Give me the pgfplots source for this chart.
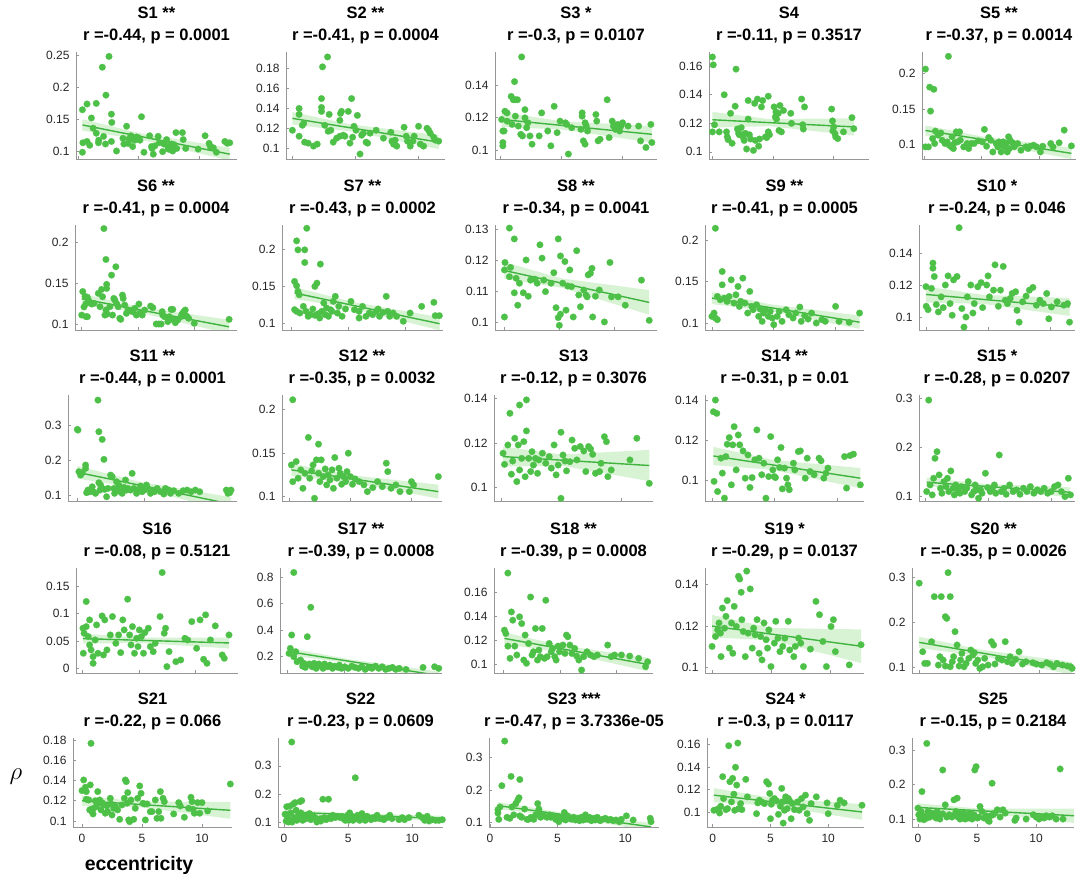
\documentclass[border=0pt]{standalone}
\usepackage{fontspec}
\setmainfont{Liberation Sans}
\usepackage{pgfplots}
\pgfplotsset{compat=1.18}
\definecolor{ptgreen}{RGB}{77,192,72}
\definecolor{lngreen}{RGB}{62,180,62}
\definecolor{bandgreen}{RGB}{216,242,212}
\definecolor{axgray}{RGB}{150,150,150}
\definecolor{tickc}{RGB}{38,38,38}
\pgfplotsset{
 panel/.style={scale only axis, anchor=south west, axis lines=left,
   axis line style={-, draw=axgray, line width=0.7pt},
   tick style={draw=axgray, line width=0.7pt}, tick align=inside, major tick length=2.5pt,
   xtick={0,5,10}, xticklabels={}, scaled ticks=false, clip=true,
   yticklabel style={font=\fontsize{12}{12}\selectfont, text=tickc, /pgf/number format/fixed, /pgf/number format/precision=2, /pgf/number format/assume math mode=true, xshift=-3pt},
   title style={font=\bfseries\fontsize{16.5}{22}\selectfont, align=center, at={(0.5,1)}, anchor=south, inner sep=0pt, yshift=1.5pt}},
 bottomrow/.style={xticklabels={0,5,10}, xticklabel style={font=\fontsize{12}{12}\selectfont, text=tickc, /pgf/number format/assume math mode=true, yshift=-4pt}},
 scat/.style={only marks, mark=*, color=ptgreen, mark size=3.3pt, mark options={draw=ptgreen, fill=ptgreen, line width=0.2pt}},
 fitline/.style={draw=lngreen, line width=1.4pt, no marks},
 ciband/.style={fill=bandgreen, draw=none, no marks},
}
\begin{document}
\begin{tikzpicture}[x=1pt,y=1pt]
\useasboundingbox (0,0) rectangle (1084,880);
% ---------------- Row 1
\begin{axis}[panel, at={(76pt,721pt)}, width=161pt, height=107pt, xmin=-0.17, xmax=13.1, ymin=0.0874, ymax=0.256, ytick={0.1,0.15,0.2,0.25}, title={S1 **\\r =-0.44, p = 0.0001}]
\addplot[ciband] coordinates {(0.36,0.150) (5.22,0.1276) (12.5,0.105) (12.5,0.085) (5.22,0.1176) (0.36,0.132)} -- cycle;
\addplot[scat] coordinates {(0.36,0.165) (0.74,0.174) (0.4,0.113) (0.36,0.098) (0.74,0.115) (0.96,0.109) (1.1,0.152) (1.24,0.136) (1.5,0.175) (1.5,0.128) (1.68,0.113) (1.7,0.117) (2.0,0.232) (2.1,0.123) (2.26,0.111) (2.3,0.188) (2.55,0.249) (2.75,0.158) (2.78,0.145) (2.75,0.115) (3.17,0.10) (3.7,0.12) (3.78,0.111) (4.0,0.139) (4.13,0.112) (4.2,0.119) (4.35,0.124) (4.5,0.107) (4.55,0.118) (4.68,0.117) (4.82,0.122) (4.96,0.121) (5.1,0.117) (5.23,0.154) (5.43,0.098) (5.9,0.124) (6.05,0.107) (6.1,0.104) (6.2,0.095) (6.33,0.108) (6.6,0.123) (6.7,0.113) (6.97,0.099) (7.08,0.111) (7.3,0.118) (7.4,0.107) (7.44,0.103) (7.58,0.107) (7.63,0.102) (7.7,0.111) (7.8,0.1) (7.9,0.11) (8.07,0.129) (8.13,0.104) (8.6,0.129) (8.67,0.118) (8.87,0.104) (9.9,0.103) (10.47,0.124) (10.8,0.112) (10.9,0.107) (11.15,0.105) (11.4,0.098) (12.1,0.115) (12.3,0.112) (12.5,0.113)};
\addplot[fitline] coordinates {(0.36,0.141) (12.5,0.095)};
\end{axis}
\begin{axis}[panel, at={(286pt,721pt)}, width=159pt, height=107pt, xmin=-0.48, xmax=12.15, ymin=0.089, ymax=0.197, ytick={0.1,0.12,0.14,0.16,0.18}, title={S2 **\\r =-0.41, p = 0.0004}]
\addplot[ciband] coordinates {(0.03,0.1363) (4.68,0.1239) (11.65,0.113) (11.65,0.099) (4.68,0.1169) (0.03,0.1237)} -- cycle;
\addplot[scat] coordinates {(0.03,0.118) (0.56,0.140) (0.56,0.134) (0.56,0.112) (0.82,0.123) (0.93,0.125) (1.0,0.106) (1.28,0.105) (1.7,0.102) (2.0,0.104) (2.34,0.150) (2.34,0.141) (2.34,0.137) (2.42,0.182) (2.82,0.192) (2.6,0.123) (2.95,0.134) (2.87,0.117) (3.08,0.118) (3.27,0.106) (3.54,0.110) (3.8,0.128) (3.85,0.135) (3.93,0.137) (3.8,0.112) (4.07,0.113) (4.2,0.112) (4.47,0.137) (4.6,0.105) (4.73,0.150) (4.81,0.111) (4.92,0.122) (5.08,0.118) (5.19,0.133) (5.4,0.094) (5.53,0.113) (5.66,0.115) (5.88,0.106) (6.0,0.105) (6.2,0.115) (6.68,0.118) (7.26,0.110) (7.85,0.116) (7.93,0.107) (8.06,0.104) (8.19,0.108) (8.32,0.102) (8.9,0.121) (9.07,0.112) (9.17,0.107) (9.39,0.102) (9.6,0.107) (9.7,0.112) (10.05,0.122) (10.19,0.104) (10.45,0.102) (10.72,0.120) (10.85,0.118) (10.98,0.115) (11.25,0.111) (11.38,0.108) (11.65,0.107)};
\addplot[fitline] coordinates {(0.03,0.130) (11.65,0.106)};
\end{axis}
\begin{axis}[panel, at={(495pt,721pt)}, width=162pt, height=107pt, xmin=-0.4, xmax=12.8, ymin=0.095, ymax=0.16, ytick={0.1,0.12,0.14}, title={S3 *\\r =-0.3, p = 0.0107}]
\addplot[ciband] coordinates {(0.14,0.1235) (5.04,0.1179) (12.38,0.115) (12.38,0.105) (5.04,0.1129) (0.14,0.1145)} -- cycle;
\addplot[scat] coordinates {(0.14,0.119) (0.24,0.112) (0.34,0.112) (0.24,0.105) (0.24,0.103) (0.41,0.124) (0.58,0.123) (0.58,0.118) (0.92,0.133) (0.99,0.116) (1.09,0.131) (1.19,0.142) (1.26,0.131) (1.43,0.131) (1.26,0.121) (1.5,0.115) (1.7,0.110) (1.77,0.157) (1.84,0.109) (2.04,0.125) (2.04,0.120) (2.18,0.114) (2.28,0.117) (2.45,0.109) (2.62,0.104) (3.2,0.109) (3.4,0.123) (3.9,0.112) (4.15,0.103) (4.42,0.127) (4.66,0.111) (4.9,0.118) (5.34,0.117) (5.44,0.116) (5.58,0.098) (5.85,0.114) (6.6,0.113) (6.7,0.123) (6.7,0.121) (6.8,0.106) (6.94,0.104) (6.94,0.117) (7.04,0.115) (7.14,0.112) (7.82,0.122) (7.89,0.118) (8.0,0.106) (8.16,0.107) (8.74,0.131) (8.9,0.108) (9.15,0.118) (9.25,0.115) (9.42,0.113) (9.6,0.116) (9.76,0.112) (9.86,0.115) (10.0,0.117) (10.44,0.115) (11.3,0.115) (11.46,0.106) (11.9,0.102) (12.3,0.116) (12.38,0.105)};
\addplot[fitline] coordinates {(0.14,0.119) (12.38,0.110)};
\end{axis}
\begin{axis}[panel, at={(709pt,721pt)}, width=160pt, height=107pt, xmin=-0.25, xmax=12.9, ymin=0.095, ymax=0.17, ytick={0.1,0.12,0.14,0.16}, title={S4\\r =-0.11, p = 0.3517}]
\addplot[ciband] coordinates {(0.03,0.128) (4.68,0.123) (11.65,0.1235) (11.65,0.1115) (4.68,0.118) (0.03,0.117)} -- cycle;
\addplot[scat] coordinates {(0.03,0.1665) (0.1,0.161) (0.03,0.114) (0.2,0.119) (0.59,0.114) (1.0,0.140) (1.19,0.114) (1.25,0.1105) (1.32,0.1086) (1.52,0.127) (1.65,0.106) (1.9,0.132) (1.97,0.158) (2.08,0.116) (2.18,0.113) (2.24,0.112) (2.4,0.117) (2.5,0.112) (2.57,0.110) (2.64,0.108) (2.74,0.113) (2.84,0.102) (2.97,0.136) (2.97,0.123) (3.07,0.112) (3.17,0.109) (3.4,0.101) (3.5,0.134) (3.56,0.108) (3.73,0.137) (3.83,0.104) (3.9,0.109) (4.06,0.1315) (4.16,0.136) (4.39,0.1105) (4.49,0.110) (4.62,0.139) (4.62,0.114) (4.72,0.112) (5.1,0.1315) (5.2,0.1245) (5.25,0.128) (5.3,0.123) (5.45,0.127) (5.5,0.115) (5.58,0.1325) (5.7,0.114) (5.87,0.129) (6.47,0.127) (6.53,0.120) (7.36,0.137) (7.46,0.119) (7.5,0.116) (7.6,0.1315) (9.83,0.130) (9.9,0.1217) (9.93,0.1147) (10.0,0.1175) (10.1,0.1128) (10.16,0.1105) (10.33,0.1093) (10.8,0.114) (11.5,0.124) (11.65,0.1163)};
\addplot[fitline] coordinates {(0.03,0.1225) (11.65,0.1175)};
\end{axis}
\begin{axis}[panel, at={(922pt,721pt)}, width=154pt, height=107pt, xmin=-0.2, xmax=13.2, ymin=0.079, ymax=0.231, ytick={0.1,0.15,0.2}, title={S5 **\\r =-0.37, p = 0.0014}]
\addplot[ciband] coordinates {(0.1,0.1267) (5.18,0.1105) (12.8,0.095) (12.8,0.079) (5.18,0.1025) (0.1,0.1123)} -- cycle;
\addplot[scat] coordinates {(0.1,0.2067) (0.1,0.0962) (0.36,0.0962) (0.47,0.181) (0.54,0.147) (0.83,0.178) (0.72,0.108) (0.9,0.101) (0.97,0.1186) (1.19,0.1129) (1.44,0.116) (1.55,0.1057) (1.8,0.101) (1.99,0.1033) (2.1,0.2248) (2.17,0.0986) (2.35,0.0962) (2.42,0.1105) (2.53,0.0938) (2.64,0.102) (2.78,0.1176) (2.89,0.1033) (3.07,0.1176) (3.14,0.1057) (3.43,0.0962) (3.72,0.101) (3.86,0.0938) (4.08,0.101) (4.33,0.101) (4.69,0.1048) (5.05,0.1033) (5.23,0.121) (5.42,0.0971) (5.6,0.1095) (5.78,0.1057) (5.96,0.089) (6.25,0.101) (6.39,0.0962) (6.5,0.1033) (6.61,0.0986) (6.68,0.089) (6.86,0.1033) (6.97,0.0962) (7.1,0.101) (7.22,0.089) (7.33,0.1105) (7.4,0.0938) (7.47,0.1057) (7.69,0.102) (7.83,0.0962) (8.12,0.101) (8.41,0.0914) (8.84,0.0962) (9.03,0.0938) (9.2,0.0971) (9.5,0.0986) (9.75,0.0962) (10.1,0.089) (10.3,0.0971) (11.0,0.101) (11.2,0.0962) (11.73,0.102) (12.17,0.12) (12.8,0.0976)};
\addplot[fitline] coordinates {(0.1,0.1195) (12.8,0.087)};
\end{axis}
% ---------------- Row 2
\begin{axis}[panel, at={(75pt,550pt)}, width=162pt, height=105pt, xmin=-0.6, xmax=13.8, ymin=0.0926, ymax=0.222, ytick={0.1,0.15,0.2}, title={S6 **\\r =-0.41, p = 0.0004}]
\addplot[ciband] coordinates {(0,0.1373) (5.24,0.1207) (13.1,0.1053) (13.1,0.0877) (5.24,0.1137) (0,0.1247)} -- cycle;
\addplot[scat] coordinates {(0,0.111) (0.09,0.140) (0.2,0.121) (0.29,0.134) (0.38,0.125) (0.38,0.109) (0.5,0.109) (0.59,0.1295) (0.5,0.133) (0.68,0.127) (0.88,0.1246) (1.09,0.1254) (1.47,0.1377) (1.62,0.1213) (1.76,0.1426) (1.85,0.1336) (1.97,0.2176) (2.06,0.111) (2.15,0.1795) (2.21,0.1488) (2.21,0.1438) (2.15,0.1172) (2.26,0.1123) (2.5,0.1213) (2.65,0.1602) (2.74,0.111) (2.85,0.1315) (3.03,0.1705) (2.94,0.1295) (3.09,0.1254) (3.24,0.1213) (3.38,0.107) (3.47,0.1057) (3.62,0.1356) (3.68,0.1315) (3.82,0.1234) (3.97,0.1131) (4.12,0.1172) (4.32,0.1164) (4.5,0.1152) (4.71,0.1193) (4.85,0.111) (5.08,0.1246) (5.15,0.1131) (5.38,0.111) (5.59,0.1172) (6.12,0.1221) (6.32,0.1201) (6.62,0.100) (6.85,0.100) (7.06,0.100) (7.15,0.1152) (7.2,0.111) (7.35,0.109) (7.65,0.1029) (7.79,0.109) (7.94,0.118) (8.09,0.118) (8.15,0.1049) (8.32,0.1016) (8.53,0.1049) (8.82,0.109) (8.91,0.1123) (9.06,0.1152) (9.2,0.1172) (9.32,0.1098) (9.5,0.107) (10.0,0.1008) (13.1,0.1057)};
\addplot[fitline] coordinates {(0,0.131) (13.1,0.0965)};
\end{axis}
\begin{axis}[panel, at={(282pt,550pt)}, width=161pt, height=105pt, xmin=-0.8, xmax=13.3, ymin=0.0904, ymax=0.234, ytick={0.1,0.15,0.2}, title={S7 **\\r =-0.43, p = 0.0002}]
\addplot[ciband] coordinates {(0.3,0.1491) (5.38,0.1287) (13.0,0.108) (13.0,0.09) (5.38,0.1197) (0.3,0.1329)} -- cycle;
\addplot[scat] coordinates {(0.48,0.2123) (0.6,0.2) (1.19,0.2) (1.37,0.2295) (1.19,0.1827) (2.56,0.1805) (0.3,0.1568) (0.48,0.151) (0.6,0.1432) (0.71,0.1386) (0.3,0.1182) (0.48,0.1159) (0.77,0.1136) (1.07,0.1227) (1.31,0.1159) (1.67,0.1114) (1.9,0.1191) (2.08,0.15) (2.26,0.1545) (2.38,0.1127) (2.68,0.1159) (2.86,0.1273) (2.98,0.1114) (3.1,0.1205) (3.27,0.1091) (3.45,0.1182) (3.57,0.1159) (3.69,0.1295) (3.87,0.1364) (4.05,0.1136) (4.17,0.1227) (4.46,0.1091) (4.76,0.1191) (5.24,0.1295) (5.54,0.1182) (5.95,0.1159) (6.25,0.1227) (6.55,0.1091) (7.14,0.1114) (7.44,0.1159) (7.62,0.1191) (7.74,0.1091) (8.33,0.1364) (8.45,0.1159) (8.63,0.1091) (8.93,0.1136) (9.23,0.1091) (9.82,0.1023) (10.42,0.1136) (11.43,0.1227) (12.5,0.1282) (12.62,0.11) (12.98,0.11) (1.49,0.1091) (2.08,0.1105) (2.5,0.1068) (5.95,0.1068) (6.85,0.1136) (8.04,0.1145)};
\addplot[fitline] coordinates {(0.3,0.141) (13.0,0.099)};
\end{axis}
\begin{axis}[panel, at={(495pt,550pt)}, width=162pt, height=105pt, xmin=-0.8, xmax=13.8, ymin=0.0974, ymax=0.1313, ytick={0.1,0.11,0.12,0.13}, title={S8 **\\r =-0.34, p = 0.0041}]
\addplot[ciband] coordinates {(0.05,0.1193) (5.27,0.114) (13.1,0.1103) (13.1,0.1023) (5.27,0.111) (0.05,0.1139)} -- cycle;
\addplot[scat] coordinates {(0.05,0.1016) (0.05,0.1168) (0.1,0.1192) (0.5,0.1303) (0.5,0.1146) (0.6,0.1176) (0.94,0.1268) (0.94,0.1094) (1.1,0.1141) (1.25,0.1054) (1.4,0.1125) (1.75,0.1094) (2.0,0.120) (2.2,0.1083) (2.4,0.1135) (2.8,0.1138) (3.0,0.1125) (3.25,0.1249) (3.44,0.1206) (3.6,0.1135) (3.75,0.1098) (4.25,0.1125) (4.5,0.1159) (4.7,0.1046) (4.9,0.1014) (4.9,0.1268) (5.0,0.0989) (5.1,0.1025) (5.1,0.1213) (5.3,0.1125) (5.5,0.1195) (5.6,0.1038) (5.75,0.1116) (5.94,0.1168) (6.1,0.1114) (6.25,0.1016) (6.56,0.123) (6.75,0.1087) (6.9,0.1049) (7.2,0.1103) (7.4,0.1087) (7.5,0.1081) (7.6,0.1152) (7.8,0.1157) (7.94,0.1173) (8.0,0.1016) (8.25,0.1083) (8.6,0.1103) (9.06,0.100) (9.56,0.1192) (9.7,0.1081) (10.3,0.1081) (10.94,0.1054) (12.4,0.1135) (13.1,0.1005)};
\addplot[fitline] coordinates {(0.05,0.1166) (13.1,0.1063)};
\end{axis}
\begin{axis}[panel, at={(705pt,550pt)}, width=159pt, height=105pt, xmin=-0.56, xmax=12.3, ymin=0.0916, ymax=0.218, ytick={0.1,0.15,0.2}, title={S9 **\\r =-0.41, p = 0.0005}]
\addplot[ciband] coordinates {(0,0.1372) (4.78,0.1224) (11.94,0.109) (11.94,0.093) (4.78,0.1144) (0,0.1228)} -- cycle;
\addplot[scat] coordinates {(0.28,0.214) (0,0.108) (0.17,0.112) (0.28,0.106) (0.44,0.104) (0.44,0.132) (0.67,0.128) (0.83,0.162) (0.83,0.146) (1.0,0.13) (1.22,0.126) (1.39,0.132) (1.56,0.152) (1.78,0.124) (1.94,0.134) (2.11,0.144) (2.22,0.12) (2.33,0.126) (2.5,0.154) (2.67,0.124) (2.89,0.112) (3.06,0.138) (3.22,0.12) (3.33,0.116) (3.61,0.122) (3.78,0.108) (3.89,0.1168) (4.06,0.102) (4.17,0.112) (4.33,0.116) (4.56,0.108) (4.72,0.114) (4.89,0.106) (5.0,0.098) (5.28,0.108) (5.44,0.114) (5.67,0.102) (6.0,0.116) (6.22,0.11) (6.56,0.106) (6.78,0.112) (7.11,0.1192) (7.22,0.102) (7.5,0.1088) (7.78,0.1048) (8.06,0.112) (8.44,0.10) (8.89,0.104) (9.17,0.102) (10.0,0.12) (10.28,0.102) (11.1,0.1008) (11.94,0.112)};
\addplot[fitline] coordinates {(0,0.13) (11.94,0.101)};
\end{axis}
\begin{axis}[panel, at={(919pt,550pt)}, width=156pt, height=105pt, xmin=-0.56, xmax=12.0, ymin=0.0919, ymax=0.1575, ytick={0.1,0.12,0.14}, title={S10 *\\r =-0.24, p = 0.046}]
\addplot[ciband] coordinates {(0,0.1191) (4.62,0.1138) (11.56,0.1119) (11.56,0.1007) (4.62,0.1082) (0,0.1091)} -- cycle;
\addplot[scat] coordinates {(0,0.119) (0.02,0.1067) (0.17,0.1046) (0.44,0.1179) (0.56,0.1305) (0.56,0.1337) (0.67,0.1253) (0.83,0.1078) (1.0,0.1032) (1.22,0.1126) (1.39,0.1059) (1.56,0.12) (1.78,0.1257) (1.94,0.1084) (2.11,0.1011) (2.22,0.1232) (2.5,0.1253) (2.67,0.1558) (2.89,0.1053) (3.06,0.0937) (3.22,0.1) (3.33,0.1126) (3.61,0.12) (3.78,0.1025) (3.89,0.1084) (4.17,0.1189) (4.44,0.1215) (4.56,0.1059) (4.89,0.12) (5.0,0.1257) (5.11,0.1126) (5.44,0.1168) (5.56,0.1326) (5.83,0.1067) (6.0,0.1168) (6.22,0.1316) (6.39,0.1105) (6.56,0.1084) (6.78,0.1116) (6.94,0.1147) (7.22,0.1158) (7.33,0.1042) (7.5,0.0968) (7.78,0.1095) (8.06,0.1131) (8.33,0.1168) (8.61,0.1185) (8.89,0.1074) (9.17,0.1105) (9.44,0.1084) (9.72,0.1147) (9.89,0.0989) (10.1,0.1063) (10.56,0.1095) (11.1,0.1074) (11.4,0.1084) (11.56,0.0968)};
\addplot[fitline] coordinates {(0,0.1141) (11.56,0.1063)};
\end{axis}
% ---------------- Row 3
\begin{axis}[panel, at={(68pt,379pt)}, width=169pt, height=106pt, xmin=-0.7, xmax=12.0, ymin=0.083, ymax=0.386, ytick={0.1,0.2,0.3}, title={S11 **\\r =-0.44, p = 0.0001}]
\addplot[ciband] coordinates {(0,0.183) (4.62,0.1386) (11.55,0.094) (11.55,0.054) (4.62,0.1186) (0,0.147)} -- cycle;
\addplot[scat] coordinates {(0,0.2876) (0.05,0.2857) (0.12,0.1667) (0.25,0.1571) (0.37,0.1638) (0.62,0.1857) (0.62,0.1762) (0.7,0.1067) (0.8,0.1143) (0.95,0.1095) (1.12,0.1238) (1.2,0.1095) (1.37,0.1048) (1.55,0.3714) (1.62,0.281) (1.62,0.1352) (1.7,0.1143) (1.75,0.1286) (1.87,0.259) (2.0,0.2019) (1.87,0.119) (2.05,0.1162) (2.2,0.0952) (2.3,0.119) (2.5,0.1571) (2.62,0.1524) (2.75,0.119) (2.8,0.1048) (2.95,0.1381) (3.05,0.1143) (3.12,0.1286) (3.25,0.1095) (3.37,0.1048) (3.5,0.1219) (3.62,0.1429) (3.7,0.1143) (3.8,0.119) (4.0,0.1143) (4.12,0.1619) (4.25,0.119) (4.45,0.1048) (4.62,0.1143) (4.75,0.1257) (4.87,0.1095) (5.05,0.1143) (5.2,0.1286) (5.3,0.119) (5.5,0.1048) (5.62,0.1143) (5.8,0.1095) (6.0,0.119) (6.25,0.1095) (6.5,0.1029) (6.62,0.119) (6.87,0.1143) (7.0,0.1048) (7.25,0.1124) (7.62,0.1048) (7.95,0.1124) (8.25,0.1143) (8.55,0.1095) (8.87,0.1143) (9.2,0.1095) (11.2,0.1143) (11.32,0.1048) (11.45,0.1067) (11.55,0.1143)};
\addplot[fitline] coordinates {(0,0.165) (11.55,0.074)};
\end{axis}
\begin{axis}[panel, at={(282pt,379pt)}, width=160pt, height=106pt, xmin=-0.6, xmax=12.5, ymin=0.095, ymax=0.217, ytick={0.1,0.15,0.2}, title={S12 **\\r =-0.35, p = 0.0032}]
\addplot[ciband] coordinates {(0.17,0.138) (4.98,0.1248) (12.2,0.1138) (12.2,0.0978) (4.98,0.1168) (0.17,0.1236)} -- cycle;
\addplot[scat] coordinates {(0.28,0.2115) (0.17,0.1365) (0.28,0.1173) (0.56,0.1404) (0.72,0.1212) (0.94,0.1308) (1.11,0.1096) (1.28,0.1269) (1.56,0.1681) (1.67,0.1212) (1.83,0.1296) (1.94,0.1365) (2.06,0.0981) (2.22,0.1423) (2.39,0.1604) (2.39,0.1269) (2.5,0.1173) (2.61,0.1423) (2.78,0.1231) (2.94,0.1319) (3.06,0.1135) (3.17,0.125) (3.33,0.1192) (3.5,0.1308) (3.61,0.1096) (3.72,0.145) (3.89,0.1212) (4.06,0.1327) (4.17,0.1269) (4.28,0.1142) (4.44,0.1231) (4.61,0.1173) (4.72,0.1288) (4.83,0.15) (5.0,0.1231) (5.17,0.1142) (5.39,0.1204) (5.72,0.1173) (6.11,0.1135) (6.39,0.1058) (6.83,0.1104) (7.22,0.1173) (7.61,0.1115) (7.94,0.1385) (8.06,0.1288) (8.33,0.1096) (8.72,0.1135) (9.06,0.1058) (9.83,0.1058) (10.0,0.1173) (10.17,0.1135) (12.2,0.1231)};
\addplot[fitline] coordinates {(0.17,0.1308) (12.2,0.1058)};
\end{axis}
\begin{axis}[panel, at={(494pt,379pt)}, width=159pt, height=106pt, xmin=-0.58, xmax=12.6, ymin=0.094, ymax=0.1415, ytick={0.1,0.12,0.14}, title={S13\\r =-0.12, p = 0.3076}]
\addplot[ciband] coordinates {(0.17,0.1184) (5.02,0.1148) (12.29,0.1169) (12.29,0.1029) (5.02,0.1098) (0.17,0.1094)} -- cycle;
\addplot[scat] coordinates {(0.17,0.1154) (0.29,0.1104) (0.57,0.1191) (0.74,0.1333) (0.86,0.106) (0.97,0.1119) (1.14,0.1221) (1.31,0.1027) (1.43,0.1191) (1.54,0.137) (1.54,0.1079) (1.71,0.1131) (1.89,0.1206) (2.0,0.1049) (2.11,0.1393) (2.11,0.1254) (2.29,0.1131) (2.46,0.1072) (2.57,0.1161) (2.69,0.1101) (2.86,0.1131) (3.03,0.1064) (3.14,0.1124) (3.43,0.1154) (3.71,0.1109) (4.0,0.1139) (4.17,0.1087) (4.4,0.1191) (4.57,0.1057) (4.74,0.1101) (4.97,0.0952) (4.97,0.1248) (5.14,0.1146) (5.31,0.1119) (5.43,0.1075) (5.71,0.1116) (5.89,0.1213) (6.11,0.1176) (6.29,0.1124) (6.57,0.1184) (6.86,0.1164) (7.03,0.1072) (7.26,0.1184) (7.43,0.1173) (7.6,0.1149) (7.83,0.1064) (8.17,0.1072) (8.29,0.1109) (8.57,0.1228) (8.74,0.1206) (8.86,0.1049) (9.14,0.1079) (10.69,0.1124) (11.26,0.1221) (12.29,0.1019)};
\addplot[fitline] coordinates {(0.17,0.1139) (12.29,0.1099)};
\end{axis}
\begin{axis}[panel, at={(705pt,379pt)}, width=159pt, height=106pt, xmin=-0.56, xmax=12.1, ymin=0.090, ymax=0.1425, ytick={0.1,0.12,0.14}, title={S14 **\\r =-0.31, p = 0.01}]
\addplot[ciband] coordinates {(0.11,0.1168) (4.79,0.1104) (11.81,0.1063) (11.81,0.0963) (4.79,0.1054) (0.11,0.1078)} -- cycle;
\addplot[scat] coordinates {(0.27,0.14) (0.11,0.1342) (0.38,0.1334) (0.16,0.0997) (0.44,0.0947) (0.71,0.1112) (0.82,0.1038) (0.99,0.0914) (1.1,0.1120) (1.21,0.1181) (1.37,0.1214) (1.54,0.098) (1.65,0.1178) (1.76,0.1268) (1.92,0.1054) (2.09,0.1227) (2.2,0.1178) (2.47,0.1148) (2.64,0.1013) (2.86,0.1128) (3.02,0.0967) (3.19,0.1016) (3.41,0.1104) (3.57,0.1252) (3.74,0.1112) (3.96,0.103) (4.12,0.1087) (4.29,0.0914) (4.51,0.1021) (4.67,0.1219) (4.84,0.1054) (4.95,0.1021) (5.05,0.1016) (5.22,0.1104) (5.38,0.1066) (5.49,0.1165) (5.6,0.0960) (5.77,0.1063) (5.93,0.1013) (6.04,0.098) (6.15,0.0956) (6.48,0.1087) (6.59,0.1054) (6.87,0.1145) (7.03,0.1148) (7.42,0.1013) (7.58,0.1112) (7.8,0.1046) (8.13,0.103) (8.52,0.1112) (8.68,0.1099) (8.9,0.1013) (9.07,0.1038) (9.23,0.1063) (10.55,0.112) (10.71,0.0964) (10.99,0.1125) (11.26,0.1132) (11.81,0.098)};
\addplot[fitline] coordinates {(0.11,0.1123) (11.81,0.1013)};
\end{axis}
\begin{axis}[panel, at={(919pt,379pt)}, width=156pt, height=106pt, xmin=-0.5, xmax=11.9, ymin=0.091, ymax=0.307, ytick={0.1,0.2,0.3}, title={S15 *\\r =-0.28, p = 0.0207}]
\addplot[ciband] coordinates {(0.11,0.1382) (4.68,0.126) (11.54,0.1188) (11.54,0.0988) (4.68,0.116) (0.11,0.1202)} -- cycle;
\addplot[scat] coordinates {(0.27,0.2966) (0.11,0.1102) (0.38,0.1237) (0.55,0.1034) (0.66,0.1373) (0.77,0.178) (0.93,0.1915) (1.1,0.1441) (1.21,0.117) (1.32,0.1068) (1.48,0.1305) (1.65,0.1203) (1.76,0.1373) (1.87,0.1102) (2.03,0.1522) (2.2,0.117) (2.31,0.1034) (2.42,0.1237) (2.58,0.1136) (2.75,0.1068) (2.86,0.1203) (3.13,0.1102) (3.3,0.117) (3.41,0.1305) (3.68,0.1034) (3.85,0.1102) (3.96,0.1237) (4.07,0.1136) (4.23,0.0966) (4.4,0.1136) (4.51,0.1068) (4.78,0.1475) (4.95,0.1183) (5.16,0.1102) (5.33,0.117) (5.49,0.1237) (5.6,0.1068) (5.88,0.1847) (6.04,0.1102) (6.26,0.117) (6.43,0.1047) (6.7,0.1237) (6.98,0.1102) (7.25,0.1136) (7.53,0.1047) (7.8,0.117) (8.08,0.1102) (8.35,0.1203) (8.63,0.1068) (8.9,0.1136) (9.18,0.1102) (9.45,0.117) (9.73,0.1068) (10.0,0.1102) (10.27,0.1203) (10.55,0.1237) (10.82,0.1102) (11.1,0.1) (11.37,0.1373) (11.54,0.1034)};
\addplot[fitline] coordinates {(0.11,0.1292) (11.54,0.1088)};
\end{axis}
% ---------------- Row 4
\begin{axis}[panel, at={(76pt,207pt)}, width=162pt, height=105pt, xmin=-0.6, xmax=13.8, ymin=-0.0086, ymax=0.184, ytick={0,0.05,0.1,0.15}, title={S16\\r =-0.08, p = 0.5121}]
\addplot[ciband] coordinates {(0.02,0.0635) (5.21,0.0563) (13.0,0.0565) (13.0,0.0365) (5.21,0.0463) (0.02,0.0455)} -- cycle;
\addplot[scat] coordinates {(0.02,0.0735) (0.05,0.0276) (0.12,0.0643) (0.31,0.1225) (0.31,0.0765) (0.49,0.0582) (0.61,0.0888) (0.61,0.0429) (0.74,0.0337) (0.92,0.0214) (0.92,0.0092) (1.1,0.052) (1.23,0.0796) (1.35,0.0276) (1.72,0.0961) (1.84,0.0245) (1.96,0.0888) (2.15,0.0337) (2.45,0.0612) (2.64,0.0949) (2.94,0.0459) (3.19,0.0612) (3.37,0.0288) (3.56,0.0888) (3.68,0.0704) (3.99,0.1268) (4.17,0.0612) (4.29,0.0429) (4.42,0.0765) (4.6,0.0276) (4.79,0.0551) (4.91,0.0398) (5.03,0.0704) (5.21,0.0582) (5.4,0.0276) (5.52,0.0655) (5.83,0.0735) (6.01,0.0398) (6.26,0.0306) (6.44,0.0459) (6.87,0.0949) (7.06,0.1757) (7.24,0.0643) (7.36,0.0735) (7.48,0.0031) (7.67,0.0306) (8.28,0.0122) (8.71,0.0153) (9.08,0.0551) (9.33,0.052) (9.69,0.0857) (10.12,0.0367) (10.43,0.0888) (10.74,0.0165) (10.92,0.098) (11.04,0.0092) (11.35,0.052) (11.78,0.0778) (12.4,0.0245) (12.58,0.0184) (13.0,0.0612)};
\addplot[fitline] coordinates {(0.02,0.0545) (13.0,0.0465)};
\end{axis}
\begin{axis}[panel, at={(280pt,207pt)}, width=162pt, height=105pt, xmin=-0.6, xmax=13.4, ymin=0.077, ymax=0.87, ytick={0.2,0.4,0.6,0.8}, title={S17 **\\r =-0.39, p = 0.0008}]
\addplot[ciband] coordinates {(0.18,0.265) (5.36,0.181) (13.12,0.088) (13.12,0.028) (5.36,0.151) (0.18,0.211)} -- cycle;
\addplot[scat] coordinates {(0.59,0.836) (0.29,0.263) (0.18,0.225) (0.41,0.364) (0.59,0.2) (0.76,0.238) (0.88,0.162) (1.18,0.175) (1.35,0.129) (1.47,0.15) (1.59,0.119) (1.76,0.351) (1.94,0.145) (2.06,0.573) (2.18,0.124) (2.35,0.15) (2.53,0.112) (2.76,0.145) (2.94,0.129) (3.12,0.112) (3.24,0.145) (3.53,0.124) (3.71,0.137) (3.94,0.112) (4.12,0.129) (4.41,0.119) (4.53,0.137) (4.71,0.112) (5.0,0.124) (5.29,0.112) (5.59,0.129) (5.88,0.119) (6.18,0.112) (6.47,0.124) (6.76,0.104) (7.06,0.119) (7.35,0.112) (7.65,0.129) (7.94,0.112) (8.24,0.124) (8.53,0.104) (8.82,0.112) (9.12,0.119) (9.41,0.104) (9.71,0.112) (10.29,0.104) (11.76,0.119) (12.76,0.124) (13.12,0.112)};
\addplot[fitline] coordinates {(0.18,0.238) (13.12,0.058)};
\end{axis}
\begin{axis}[panel, at={(494pt,207pt)}, width=159pt, height=105pt, xmin=-0.8, xmax=13.2, ymin=0.0925, ymax=0.18, ytick={0.1,0.12,0.14,0.16}, title={S18 **\\r =-0.39, p = 0.0008}]
\addplot[ciband] coordinates {(0.12,0.1263) (5.16,0.1155) (12.73,0.1053) (12.73,0.0941) (5.16,0.1099) (0.12,0.1163)} -- cycle;
\addplot[scat] coordinates {(0.42,0.1758) (0.12,0.1282) (0.24,0.1254) (0.42,0.1149) (0.61,0.1047) (0.73,0.1434) (0.85,0.1365) (1.03,0.1149) (1.21,0.1075) (1.45,0.1393) (1.64,0.1337) (1.82,0.1033) (1.94,0.1241) (2.06,0.1006) (2.24,0.1171) (2.42,0.1558) (2.55,0.1075) (2.67,0.1102) (2.85,0.1296) (3.03,0.1033) (3.15,0.1116) (3.27,0.1061) (3.45,0.1296) (3.64,0.1047) (3.76,0.1531) (3.88,0.1061) (4.06,0.1171) (4.24,0.1102) (4.36,0.113) (4.55,0.1061) (4.67,0.1033) (4.85,0.1149) (4.97,0.1102) (5.27,0.1158) (5.45,0.1088) (5.58,0.1241) (5.7,0.1227) (5.88,0.1158) (6.06,0.1088) (6.3,0.113) (6.48,0.1066) (6.67,0.1033) (6.91,0.095) (7.09,0.1061) (7.39,0.1102) (7.7,0.1075) (8.0,0.1061) (8.3,0.1075) (9.21,0.1158) (9.52,0.1061) (9.82,0.1075) (10.42,0.1075) (11.15,0.1066) (11.94,0.1047) (12.55,0.0978) (12.73,0.1019)};
\addplot[fitline] coordinates {(0.12,0.1213) (12.73,0.0997)};
\end{axis}
\begin{axis}[panel, at={(705pt,207pt)}, width=159pt, height=105pt, xmin=-0.6, xmax=12.9, ymin=0.0974, ymax=0.148, ytick={0.1,0.12,0.14}, title={S19 *\\r =-0.29, p = 0.0137}]
\addplot[ciband] coordinates {(0,0.1254) (5.06,0.1191) (12.65,0.1184) (12.65,0.1022) (5.06,0.1131) (0,0.1146)} -- cycle;
\addplot[scat] coordinates {(0,0.1102) (0.29,0.115) (0.47,0.1182) (0.59,0.1215) (0.71,0.1166) (0.76,0.1053) (0.88,0.1287) (1.06,0.119) (1.18,0.1247) (1.29,0.1323) (1.47,0.1094) (1.65,0.1215) (1.76,0.1069) (1.88,0.1295) (2.06,0.1198) (2.24,0.144) (2.35,0.1427) (2.47,0.1363) (2.53,0.1231) (2.65,0.1174) (2.82,0.1053) (2.94,0.1465) (3.06,0.1166) (3.24,0.1379) (3.41,0.1094) (3.53,0.119) (3.65,0.1158) (3.82,0.1231) (4.0,0.1069) (4.12,0.115) (4.24,0.1037) (4.41,0.1215) (4.59,0.1134) (4.71,0.1094) (4.82,0.1182) (5.0,0.1005) (5.29,0.1118) (5.41,0.1223) (5.59,0.1142) (5.76,0.1077) (6.0,0.1102) (6.18,0.1142) (6.47,0.1223) (6.59,0.1085) (6.94,0.1053) (7.06,0.1102) (7.35,0.1142) (7.53,0.1118) (7.76,0.1005) (8.35,0.1089) (8.82,0.1319) (9.12,0.1255) (9.41,0.1126) (9.71,0.1005) (10.1,0.1198) (10.3,0.1231) (10.47,0.1077) (11.65,0.1013) (12.65,0.111)};
\addplot[fitline] coordinates {(0,0.12) (12.65,0.1103)};
\end{axis}
\begin{axis}[panel, at={(912pt,207pt)}, width=163pt, height=105pt, xmin=-0.6, xmax=13.0, ymin=0.0883, ymax=0.3206, ytick={0.1,0.2,0.3}, title={S20 **\\r =-0.35, p = 0.0026}]
\addplot[ciband] coordinates {(0,0.1686) (5.1,0.14) (12.76,0.1125) (12.76,0.0845) (5.1,0.126) (0,0.1434)} -- cycle;
\addplot[scat] coordinates {(0,0.287) (0.29,0.1354) (0.46,0.1096) (0.69,0.1096) (1.03,0.1576) (1.26,0.2572) (1.6,0.1059) (1.72,0.1244) (1.84,0.2572) (2.0,0.117) (2.18,0.1037) (2.18,0.2129) (2.3,0.2092) (2.41,0.3103) (2.59,0.2572) (2.59,0.1022) (2.76,0.1133) (2.87,0.1244) (2.99,0.1797) (3.16,0.1502) (3.33,0.1037) (3.45,0.117) (3.56,0.1317) (3.74,0.1022) (3.91,0.1096) (4.14,0.1207) (4.31,0.1391) (4.48,0.128) (4.6,0.1332) (4.71,0.1096) (4.89,0.117) (5.06,0.0985) (5.29,0.1022) (5.46,0.1207) (5.75,0.1059) (6.03,0.1576) (6.21,0.1502) (6.32,0.1081) (6.61,0.1207) (6.9,0.117) (7.18,0.1576) (7.36,0.1133) (7.59,0.1244) (7.76,0.1096) (8.05,0.1185) (8.33,0.1354) (8.62,0.1081) (8.91,0.1133) (9.48,0.1111) (9.77,0.1081) (10.23,0.1059) (10.63,0.1111) (10.92,0.1081) (11.21,0.1022) (11.49,0.1096) (11.95,0.1059) (12.36,0.1037) (12.64,0.1022) (12.76,0.0985)};
\addplot[fitline] coordinates {(0,0.156) (12.76,0.0985)};
\end{axis}
% ---------------- Row 5
\begin{axis}[panel, bottomrow, at={(73pt,53pt)}, width=159pt, height=89pt, xmin=-0.75, xmax=12.5, ymin=0.094, ymax=0.182, ytick={0.1,0.12,0.14,0.16,0.18}, title={S21\\r =-0.22, p = 0.066}]
\addplot[ciband] coordinates {(0,0.125) (4.94,0.119) (12.36,0.1189) (12.36,0.1021) (4.94,0.1134) (0,0.115)} -- cycle;
\addplot[scat] coordinates {(0.75,0.1767) (0,0.13) (0.14,0.1405) (0.28,0.1333) (0.36,0.129) (0.36,0.1214) (0.56,0.1207) (0.64,0.1109) (0.69,0.1356) (0.75,0.1115) (0.83,0.1092) (0.92,0.1069) (0.97,0.1125) (1.11,0.1198) (1.19,0.1142) (1.31,0.129) (1.39,0.1175) (1.47,0.1207) (1.58,0.1109) (1.67,0.1181) (1.81,0.1158) (1.94,0.1076) (2.08,0.1148) (2.14,0.1092) (2.36,0.1224) (2.42,0.1168) (2.5,0.1059) (2.64,0.1125) (2.78,0.1142) (2.97,0.1109) (3.14,0.1016) (3.33,0.1158) (3.53,0.1224) (3.61,0.1405) (3.69,0.1389) (3.75,0.1175) (3.81,0.128) (3.89,0.101) (3.97,0.0993) (4.08,0.1207) (4.31,0.1016) (4.44,0.1125) (4.64,0.1224) (4.81,0.1346) (4.92,0.1273) (5.08,0.1175) (5.19,0.1168) (5.28,0.101) (5.42,0.1168) (5.69,0.1092) (5.83,0.1092) (6.11,0.1207) (6.25,0.1026) (6.39,0.1092) (6.53,0.129) (6.58,0.1026) (6.75,0.1224) (6.86,0.1191) (7.64,0.1069) (8.06,0.1181) (8.19,0.1148) (8.53,0.1036) (8.89,0.1125) (9.08,0.1234) (9.17,0.1191) (9.25,0.1115) (9.36,0.1076) (9.64,0.1181) (9.81,0.1076) (10.0,0.1181) (10.47,0.1099) (12.36,0.1365)};
\addplot[fitline] coordinates {(0,0.12) (12.36,0.1105)};
\end{axis}
\begin{axis}[panel, bottomrow, at={(278pt,53pt)}, width=165pt, height=89pt, xmin=-0.47, xmax=12.4, ymin=0.085, ymax=0.398, ytick={0.1,0.2,0.3}, title={S22\\r =-0.23, p = 0.0609}]
\addplot[ciband] coordinates {(0.08,0.147) (4.99,0.1336) (12.35,0.1244) (12.35,0.1044) (4.99,0.1236) (0.08,0.129)} -- cycle;
\addplot[scat] coordinates {(0.6,0.3838) (0.08,0.13) (0.16,0.106) (0.21,0.1563) (0.26,0.1228) (0.34,0.1024) (0.42,0.1084) (0.47,0.1587) (0.52,0.1347) (0.63,0.1024) (0.73,0.1659) (0.78,0.118) (0.86,0.1707) (0.94,0.1443) (0.99,0.1084) (1.12,0.1263) (1.2,0.1144) (1.25,0.1743) (1.31,0.1347) (1.38,0.1778) (1.46,0.1084) (1.57,0.1263) (1.72,0.1144) (1.83,0.1204) (1.98,0.1323) (2.09,0.1108) (2.25,0.1228) (2.43,0.118) (2.56,0.1024) (2.69,0.1084) (2.82,0.1144) (2.87,0.106) (3.03,0.1826) (3.13,0.118) (3.29,0.1108) (3.47,0.1826) (3.55,0.118) (3.66,0.1144) (3.81,0.1263) (4.0,0.118) (4.18,0.1228) (4.39,0.118) (4.52,0.1228) (4.65,0.1144) (4.78,0.1084) (4.86,0.118) (4.96,0.1263) (5.04,0.1084) (5.12,0.1347) (5.22,0.1144) (5.3,0.1228) (5.38,0.1084) (5.48,0.118) (5.56,0.2581) (5.64,0.1144) (5.74,0.1263) (5.9,0.1084) (6.08,0.1323) (6.21,0.118) (6.34,0.1084) (6.48,0.1228) (6.79,0.1108) (6.95,0.118) (7.13,0.1144) (7.26,0.1263) (7.47,0.1144) (7.78,0.1108) (8.04,0.118) (8.25,0.1263) (8.43,0.1144) (8.96,0.1108) (9.22,0.118) (9.4,0.1108) (9.74,0.118) (10.52,0.1263) (10.78,0.118) (10.97,0.1084) (11.17,0.1228) (11.31,0.106) (11.57,0.1108) (11.83,0.1084) (12.09,0.1084) (12.35,0.1108)};
\addplot[fitline] coordinates {(0.08,0.138) (12.35,0.1144)};
\end{axis}
\begin{axis}[panel, bottomrow, at={(489pt,53pt)}, width=170pt, height=89pt, xmin=-0.07, xmax=12.5, ymin=0.087, ymax=0.36, ytick={0.1,0.2,0.3}, title={S23 ***\\r =-0.47, p = 3.7336e-05}]
\addplot[ciband] coordinates {(0.59,0.1634) (5.12,0.1325) (11.91,0.0994) (11.91,0.0754) (5.12,0.1205) (0.59,0.1418)} -- cycle;
\addplot[scat] coordinates {(1.09,0.3505) (0.88,0.2137) (1.56,0.2421) (2.21,0.2326) (0.59,0.14) (0.59,0.1295) (0.65,0.1105) (0.74,0.1484) (1.26,0.1168) (1.47,0.1137) (1.62,0.1484) (1.76,0.1242) (1.91,0.1589) (2.06,0.1695) (2.15,0.1768) (2.21,0.1211) (2.35,0.1168) (2.56,0.1421) (2.74,0.1105) (2.85,0.1105) (3.03,0.1168) (3.24,0.1105) (3.38,0.1242) (3.53,0.1589) (3.62,0.1421) (3.68,0.1295) (3.74,0.1168) (3.97,0.1211) (4.21,0.1168) (4.41,0.1242) (4.5,0.1168) (4.71,0.1211) (4.85,0.1105) (5.0,0.1168) (5.09,0.1032) (5.21,0.1105) (5.38,0.1168) (5.5,0.1316) (5.59,0.1084) (5.74,0.1211) (5.88,0.1137) (6.03,0.1105) (6.18,0.1168) (6.32,0.1084) (6.47,0.1137) (6.62,0.1063) (6.76,0.1168) (6.91,0.1084) (7.06,0.1242) (7.21,0.1105) (7.35,0.1168) (7.5,0.1063) (7.65,0.1137) (7.79,0.1084) (7.94,0.1168) (8.15,0.1063) (8.32,0.1105) (8.53,0.1137) (8.74,0.1084) (8.91,0.1105) (9.12,0.1063) (9.32,0.1084) (9.56,0.1032) (9.71,0.1105) (10.09,0.1211) (10.59,0.1084) (11.85,0.1137) (11.91,0.1032)};
\addplot[fitline] coordinates {(0.59,0.1526) (11.91,0.0874)};
\end{axis}
\begin{axis}[panel, bottomrow, at={(707pt,53pt)}, width=157pt, height=89pt, xmin=-0.5, xmax=13.1, ymin=0.0866, ymax=0.166, ytick={0.1,0.12,0.14,0.16}, title={S24 *\\r =-0.3, p = 0.0117}]
\addplot[ciband] coordinates {(0.1,0.1213) (5.23,0.1125) (12.93,0.107) (12.93,0.093) (5.23,0.1055) (0.1,0.1087)} -- cycle;
\addplot[scat] coordinates {(0.1,0.1015) (0.34,0.1021) (0.52,0.103) (0.59,0.0991) (0.69,0.1051) (0.86,0.1315) (0.93,0.112) (1.14,0.1021) (1.28,0.103) (1.38,0.1591) (1.48,0.127) (1.62,0.109) (1.72,0.13) (1.83,0.1159) (1.9,0.1015) (1.97,0.1399) (2.07,0.124) (2.17,0.1615) (2.24,0.103) (2.41,0.1075) (2.52,0.1021) (2.86,0.1291) (3.0,0.1135) (3.79,0.0985) (3.9,0.1081) (4.03,0.1105) (4.24,0.109) (4.48,0.1075) (4.66,0.127) (4.83,0.1249) (4.93,0.1165) (5.0,0.094) (5.07,0.1069) (5.17,0.1105) (5.34,0.112) (5.52,0.1099) (5.69,0.0979) (5.86,0.1051) (5.97,0.121) (6.03,0.109) (6.1,0.0901) (6.21,0.1015) (6.31,0.1135) (6.38,0.1105) (6.45,0.103) (6.55,0.112) (6.66,0.1099) (6.79,0.094) (6.9,0.1075) (7.07,0.1021) (7.34,0.109) (7.48,0.1015) (7.69,0.112) (7.83,0.1045) (8.03,0.115) (8.17,0.0985) (8.38,0.0925) (8.52,0.1075) (8.97,0.1135) (9.9,0.1081) (10.0,0.0985) (10.79,0.106) (11.03,0.1105) (11.38,0.1081) (12.93,0.106)};
\addplot[fitline] coordinates {(0.1,0.115) (12.93,0.1)};
\end{axis}
\begin{axis}[panel, bottomrow, at={(912pt,53pt)}, width=162pt, height=89pt, xmin=-0.5, xmax=13.2, ymin=0.077, ymax=0.335, ytick={0.1,0.2,0.3}, title={S25\\r =-0.15, p = 0.2184}]
\addplot[ciband] coordinates {(0,0.1457) (5.29,0.13) (13.22,0.1306) (13.22,0.0886) (5.29,0.118) (0,0.1217)} -- cycle;
\addplot[scat] coordinates {(0.75,0.3192) (0.34,0.1798) (2.1,0.2423) (4.81,0.2423) (4.92,0.2519) (6.27,0.2038) (12.03,0.2452) (0,0.1317) (0.07,0.1125) (0.17,0.1) (0.27,0.1221) (0.41,0.1058) (0.51,0.0981) (0.61,0.1096) (0.75,0.1029) (0.85,0.1221) (1.02,0.1058) (1.19,0.1173) (1.36,0.1096) (1.53,0.1029) (1.63,0.1221) (1.76,0.1096) (1.86,0.1) (2.1,0.1154) (2.31,0.1413) (2.44,0.1058) (2.64,0.1125) (2.88,0.1058) (3.05,0.1558) (3.12,0.1125) (3.22,0.1221) (3.32,0.1606) (3.39,0.1058) (3.46,0.1192) (3.56,0.1) (3.66,0.1125) (3.8,0.1029) (3.9,0.1173) (4.0,0.1) (4.14,0.1096) (4.24,0.1029) (4.41,0.1173) (4.58,0.1) (4.75,0.1125) (5.02,0.1029) (5.15,0.1058) (5.25,0.1365) (5.42,0.1221) (5.59,0.1029) (5.76,0.1096) (5.93,0.0962) (6.03,0.0933) (6.17,0.1096) (6.37,0.1125) (6.51,0.1173) (6.71,0.1269) (6.95,0.1058) (7.19,0.1269) (7.39,0.1173) (8.2,0.0962) (8.31,0.1029) (9.15,0.1) (9.76,0.1125) (10.0,0.1058) (10.24,0.1) (10.44,0.1058) (10.68,0.1029) (10.85,0.1096) (11.12,0.1058) (11.36,0.1096) (11.69,0.1) (12.27,0.1) (13.22,0.1058)};
\addplot[fitline] coordinates {(0,0.1337) (13.22,0.1096)};
\end{axis}
% ---------------- labels
\node[font=\fontsize{26}{26}\selectfont] at (16,103) {$\rho$};
\node[font=\bfseries\fontsize{19.5}{20}\selectfont] at (139,15) {eccentricity};
\end{tikzpicture}
\end{document}
